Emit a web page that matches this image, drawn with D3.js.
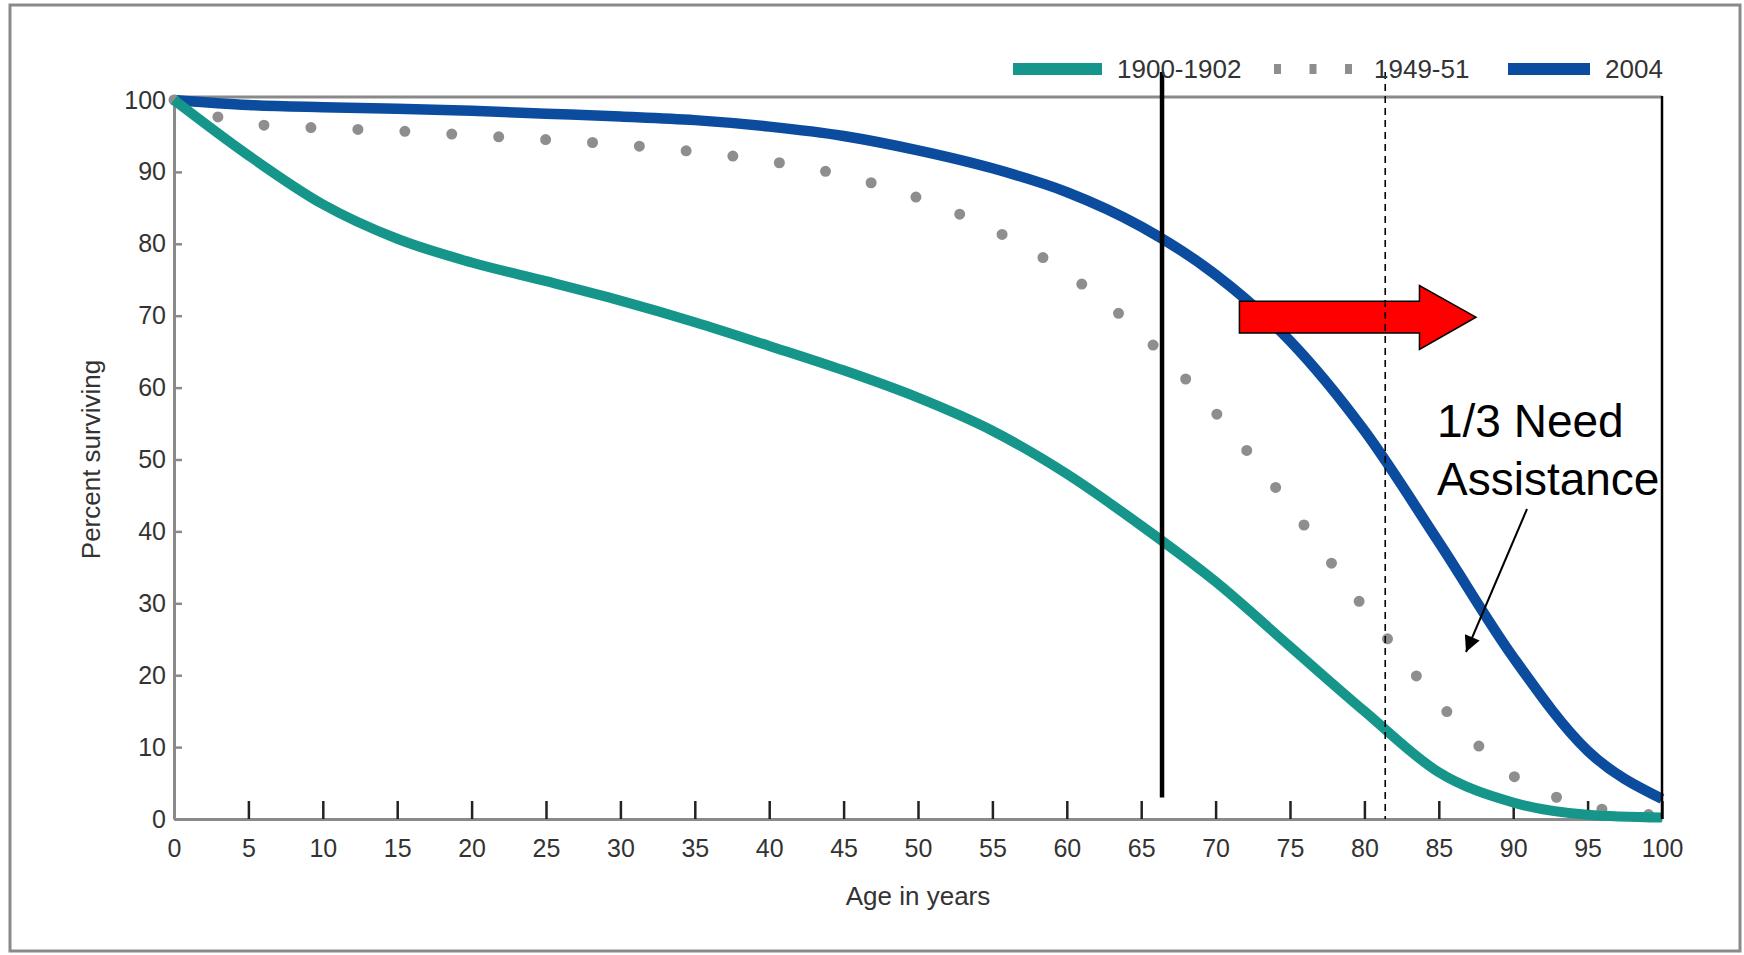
<!DOCTYPE html>
<html>
<head>
<meta charset="utf-8">
<script src="https://cdn.jsdelivr.net/npm/d3@7"></script>
<style>
    body { margin: 0; background: #fff; }
    svg { display: block; font-family: 'Liberation Sans', Arial, sans-serif; }
</style>
</head>
<body>
<div id="survival-chart"></div>
<script>
'use strict';

// Chart data
const ages = [0, 5, 10, 15, 20, 25, 30, 35, 40, 45, 50, 55, 60, 65, 70, 75, 80, 85, 90, 95, 100];
const survival1900 = [100, 92.3, 85.5, 80.7, 77.4, 74.8, 72.1, 69.1, 65.8, 62.4, 58.6, 54, 48, 40.8, 33, 24, 15, 6.5, 2.3, 0.6, 0.2];
const survival1949 = [100, 96.7, 96.1, 95.7, 95.1, 94.5, 93.8, 92.8, 91.5, 89.5, 86.4, 82, 75.9, 67.5, 56.5, 43.5, 29.3, 16.2, 6, 1.8, 0.5];
const survival2004 = [100, 99.3, 99, 98.8, 98.5, 98.1, 97.7, 97.2, 96.3, 95, 93, 90.5, 87.2, 82.4, 75.7, 66.5, 54, 38.5, 22.5, 9.5, 2.8];
const seriesNames = ['1900-1902', '1949-51', '2004'];
const xTicks = [0, 5, 10, 15, 20, 25, 30, 35, 40, 45, 50, 55, 60, 65, 70, 75, 80, 85, 90, 95, 100];
const yTicks = [0, 10, 20, 30, 40, 50, 60, 70, 80, 90, 100];

// Annotations (in data units)
const markerAges = [66.4, 81.4];
const noteLines = ['1/3 Need', 'Assistance'];

const settings = {
    width: 1744,
    height: 955,
    elId: '#survival-chart'
};

const plot = { left: 174, right: 1662, top: 100, bottom: 819 };

const colors = {
    teal: '#16968a',
    blue: '#0b4c9f',
    dots: '#8e8e8e',
    axis: '#8a8a8a',
    text: '#333'
};

const svg = d3.select(settings.elId)
    .append('svg')
    .attr('width', settings.width)
    .attr('height', settings.height);

// Outer frame
svg.append('rect')
    .attr('x', 10).attr('y', 5)
    .attr('width', 1730).attr('height', 946)
    .attr('fill', '#fff')
    .attr('stroke', colors.axis)
    .attr('stroke-width', 3);

const x = d3.scaleLinear().domain([0, 100]).range([plot.left, plot.right]);
const y = d3.scaleLinear().domain([0, 100]).range([plot.bottom, plot.top]);

const line = d3.line()
    .x(d => x(d.age))
    .y(d => y(d.value))
    .curve(d3.curveMonotoneX);

const toPoints = values => ages.map((age, i) => ({ age, value: values[i] }));

// Plot frame: top gray, right black
svg.append('line')
    .attr('x1', x(0)).attr('x2', x(100))
    .attr('y1', y(100) - 3).attr('y2', y(100) - 3)
    .attr('stroke', colors.axis).attr('stroke-width', 3);

// Axes
const xAxis = svg.append('g')
    .attr('transform', `translate(0,${y(0)})`)
    .call(d3.axisBottom(x).tickValues(xTicks).tickSizeInner(-18).tickSizeOuter(0).tickPadding(20));

const yAxis = svg.append('g')
    .attr('transform', `translate(${x(0)},0)`)
    .call(d3.axisLeft(y).tickValues(yTicks).tickSizeInner(-8).tickSizeOuter(0).tickPadding(8));

[xAxis, yAxis].forEach(ax => {
    ax.select('.domain').attr('stroke', colors.axis).attr('stroke-width', 3);
    ax.selectAll('text')
        .attr('font-size', 25)
        .attr('fill', colors.text)
        .attr('font-family', "'Liberation Sans', Arial, sans-serif");
});
xAxis.selectAll('.tick line').attr('stroke', '#222').attr('stroke-width', 2.5);
yAxis.selectAll('.tick line').attr('stroke', colors.axis).attr('stroke-width', 2.5);

// Axis titles
svg.append('text')
    .text('Age in years')
    .attr('x', (plot.left + plot.right) / 2)
    .attr('y', 905)
    .attr('text-anchor', 'middle')
    .attr('font-size', 26)
    .attr('fill', colors.text);

svg.append('text')
    .text('Percent surviving')
    .attr('transform', `translate(100,${(plot.top + plot.bottom) / 2}) rotate(-90)`)
    .attr('text-anchor', 'middle')
    .attr('font-size', 26)
    .attr('fill', colors.text);

// Series
svg.append('path')
    .datum(toPoints(survival2004))
    .attr('d', line)
    .attr('fill', 'none')
    .attr('stroke', colors.blue)
    .attr('stroke-width', 10.5);

svg.append('path')
    .datum(toPoints(survival1949))
    .attr('d', line)
    .attr('fill', 'none')
    .attr('stroke', colors.dots)
    .attr('stroke-width', 11)
    .attr('stroke-linecap', 'round')
    .attr('stroke-dasharray', '0 47');

svg.append('path')
    .datum(toPoints(survival1900))
    .attr('d', line)
    .attr('fill', 'none')
    .attr('stroke', colors.teal)
    .attr('stroke-width', 10);

// Right border of the plot
svg.append('line')
    .attr('x1', x(100)).attr('x2', x(100))
    .attr('y1', y(100) - 4).attr('y2', y(0))
    .attr('stroke', '#000').attr('stroke-width', 2.5);

// Red arrow
const arrowPts = [
    [71.6, 72], [83.7, 72], [83.7, 74.2], [87.5, 69.8],
    [83.7, 65.3], [83.7, 67.6], [71.6, 67.6]
];
svg.append('polygon')
    .attr('points', arrowPts.map(p => [x(p[0]), y(p[1])].join(',')).join(' '))
    .attr('fill', '#ff0000')
    .attr('stroke', '#000')
    .attr('stroke-width', 1.5);

// Vertical markers
svg.append('line')
    .attr('x1', x(markerAges[0])).attr('x2', x(markerAges[0]))
    .attr('y1', 72).attr('y2', y(3))
    .attr('stroke', '#000').attr('stroke-width', 4.5);

svg.append('line')
    .attr('x1', x(markerAges[1])).attr('x2', x(markerAges[1]))
    .attr('y1', 72).attr('y2', y(0))
    .attr('stroke', '#000').attr('stroke-width', 1.6)
    .attr('stroke-dasharray', '7 5');

// Note text + pointer
svg.append('text')
    .attr('x', 1437)
    .attr('y', 437)
    .attr('font-size', 46)
    .attr('fill', '#000')
    .selectAll('tspan')
    .data(noteLines)
    .enter()
    .append('tspan')
    .attr('x', 1437)
    .attr('dy', (d, i) => i === 0 ? 0 : 58)
    .text(d => d);

svg.append('defs')
    .append('marker')
    .attr('id', 'head')
    .attr('viewBox', '0 0 10 10')
    .attr('refX', 10).attr('refY', 5)
    .attr('markerWidth', 20).attr('markerHeight', 16)
    .attr('markerUnits', 'userSpaceOnUse')
    .attr('orient', 'auto')
    .append('path')
    .attr('d', 'M0,0L10,5L0,10Z')
    .attr('fill', '#000');

svg.append('line')
    .attr('x1', 1527).attr('y1', 509)
    .attr('x2', 1466).attr('y2', 652)
    .attr('stroke', '#000').attr('stroke-width', 2)
    .attr('marker-end', 'url(#head)');

// Legend
const legendX = [1013, 1274, 1508];
const swatchW = [89, 80, 82];
const legendY = 69;
const legend = svg.append('g').attr('id', 'legend');

seriesNames.forEach((name, i) => {
    const g = legend.append('g');
    if (i === 1) {
        g.append('line')
            .attr('x1', legendX[i]).attr('x2', legendX[i] + swatchW[i])
            .attr('y1', legendY).attr('y2', legendY)
            .attr('stroke', colors.dots)
            .attr('stroke-width', 10)
            .attr('stroke-dasharray', '7 28.5');
    } else {
        g.append('rect')
            .attr('x', legendX[i]).attr('y', legendY - 6)
            .attr('width', swatchW[i]).attr('height', 12)
            .attr('fill', i === 0 ? colors.teal : colors.blue);
    }
    g.append('text')
        .text(name)
        .attr('x', legendX[i] + swatchW[i] + (i === 1 ? 20 : 15))
        .attr('y', legendY)
        .attr('dy', '0.35em')
        .attr('font-size', 26)
        .attr('fill', colors.text);
});
</script>
</body>
</html>
